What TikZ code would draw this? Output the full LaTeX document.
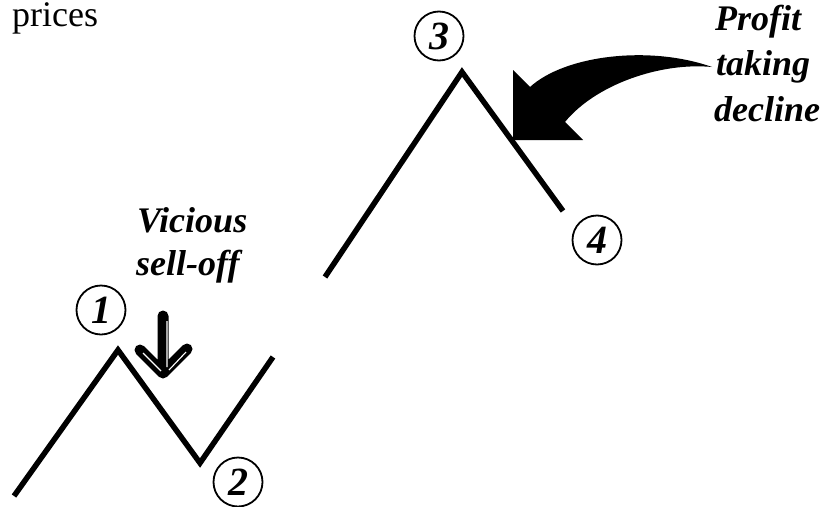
\documentclass[tikz,border=0pt]{standalone}
\usepackage{fontspec}
\setmainfont{Liberation Serif}
\begin{document}
\begin{tikzpicture}[x=1pt,y=-1pt,
  price/.style={line width=5.5pt,line join=miter,line cap=butt},
  numcirc/.style={circle,draw,line width=1.8pt,minimum size=49pt,inner sep=0pt,font=\fontsize{40}{40}\selectfont\bfseries\itshape},
  lbl/.style={anchor=base west,inner sep=0pt,font=\fontsize{36}{36}\selectfont\bfseries\itshape}]
\useasboundingbox (0,0) rectangle (826,506);
% top-left text
\node[anchor=base west,inner sep=0pt,font=\fontsize{36}{36}\selectfont] (prices) at (12,26) {prices};
% small zigzag
\coordinate (a0) at (14,496);
\coordinate (a1) at (118,350);
\coordinate (a2) at (200,463);
\coordinate (a3) at (273,357);
\draw[price] (a0) -- (a1) -- (a2) -- (a3);
% big peak
\coordinate (b0) at (325,277);
\coordinate (b1) at (462,72);
\coordinate (b2) at (563,211);
\draw[price] (b0) -- (b1) -- (b2);
% numbered circles
\node[numcirc] (n1) at (101,310) {1};
\node[numcirc] (n2) at (238,482) {2};
\node[numcirc] (n3) at (439,36) {3};
\node[numcirc] (n4) at (597,240) {4};
% labels
\node[lbl] (vic) at (137,232) {Vicious};
\node[lbl] (sell) at (136,275) {sell-off};
\node[lbl] (prof) at (715,30) {Profit};
\node[lbl] (tak) at (716,75) {taking};
\node[lbl] (dec) at (714,121) {decline};
% down arrow
\coordinate (d0) at (163,316);
\coordinate (d1) at (163,373);
\coordinate (dl) at (140,350);
\coordinate (dr) at (187,349);
\draw[line width=11pt,line cap=round,line join=round] (d0) -- (d1) (dl) -- (d1) -- (dr);
\draw[white,line width=1.1pt] (167,321) -- (167,367) (143,353) -- (161,371) (169,370) -- (186,352);
% curved arrow
\fill (513,140) -- (513,70) -- (530,87)
  .. controls (565,55) and (650,45) .. (712,67)
  .. controls (660,62) and (595,85) .. (565,122)
  -- (583,140) -- cycle;
\end{tikzpicture}
\end{document}
